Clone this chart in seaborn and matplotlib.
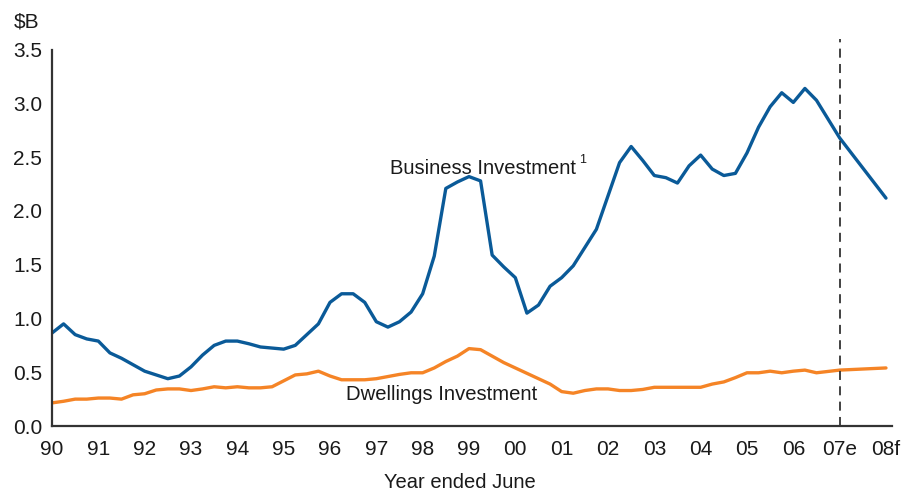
import matplotlib
matplotlib.use("Agg")
import matplotlib.pyplot as plt
import numpy as np
import pandas as pd
import seaborn as sns

# Quarterly observations (year ended June), then the 2007 estimate and 2008 forecast
quarters = list(np.arange(67) * 0.25 + 1990.0)
period = quarters + [2007.0, 2008.0]

business = [
    0.865, 0.95, 0.85, 0.81, 0.79, 0.68, 0.63, 0.57, 0.51, 0.475, 0.44, 0.465,
    0.55, 0.66, 0.75, 0.79, 0.79, 0.765, 0.735, 0.725, 0.715, 0.75, 0.85, 0.95,
    1.15, 1.23, 1.23, 1.15, 0.97, 0.92, 0.97, 1.06, 1.23, 1.58, 2.21, 2.27,
    2.32, 2.28, 1.59, 1.48, 1.38, 1.05, 1.125, 1.30, 1.38, 1.49, 1.66, 1.83,
    2.14, 2.45, 2.60, 2.47, 2.33, 2.31, 2.26, 2.42, 2.52, 2.39, 2.33, 2.35,
    2.54, 2.78, 2.97, 3.10, 3.01, 3.14, 3.03,
    2.68, 2.12,
]

dwellings = [
    0.215, 0.23, 0.25, 0.25, 0.26, 0.26, 0.25, 0.29, 0.30, 0.335, 0.345, 0.345,
    0.33, 0.345, 0.365, 0.355, 0.365, 0.355, 0.355, 0.365, 0.42, 0.475, 0.485, 0.51,
    0.465, 0.43, 0.43, 0.43, 0.44, 0.46, 0.48, 0.495, 0.495, 0.54, 0.60, 0.65,
    0.72, 0.71, 0.65, 0.59, 0.54, 0.49, 0.44, 0.39, 0.32, 0.305, 0.33, 0.345,
    0.345, 0.33, 0.33, 0.34, 0.36, 0.36, 0.36, 0.36, 0.36, 0.39, 0.41, 0.45,
    0.495, 0.495, 0.51, 0.495, 0.51, 0.52, 0.495,
    0.52, 0.54,
]

tick_years = list(range(1990, 2009))
tick_labels = ["90", "91", "92", "93", "94", "95", "96", "97", "98", "99",
               "00", "01", "02", "03", "04", "05", "06", "07e", "08f"]
y_ticks = [0.0, 0.5, 1.0, 1.5, 2.0, 2.5, 3.0, 3.5]

series_names = ["Business Investment", "Dwellings Investment"]
colors = {"Business Investment": "#0a5a98", "Dwellings Investment": "#f58426"}

df = pd.DataFrame({
    "year": period * 2,
    "value": business + dwellings,
    "series": [series_names[0]] * len(period) + [series_names[1]] * len(period),
})

sns.set_style("white")
plt.rcParams["font.family"] = ["Liberation Sans", "DejaVu Sans"]

fig = plt.figure(figsize=(9.04, 4.90), dpi=100)
ax = fig.add_axes([52 / 904, 1 - 426 / 490, (892 - 52) / 904, (426 - 39) / 490])

sns.lineplot(data=df, x="year", y="value", hue="series", palette=colors,
             linewidth=2.4, legend=False, ax=ax, sort=False)

# Boundary between actuals and estimates
ax.axvline(2007.0, color="#333333", linewidth=1.3, linestyle=(0, (5, 3.5)))

ax.set_xlim(1990.0, 2008.13)
ax.set_ylim(0, 3.6)
ax.set_xticks(tick_years)
ax.set_xticklabels(tick_labels)
ax.set_yticks(y_ticks)
ax.set_yticklabels([f"{v:.1f}" for v in y_ticks])
ax.tick_params(axis="both", length=0, labelsize=15, colors="#1a1a1a")
ax.tick_params(axis="x", pad=10)
ax.tick_params(axis="y", pad=7)
ax.set_xlabel("")
ax.set_ylabel("")

for side in ["top", "right"]:
    ax.spines[side].set_visible(False)
for side in ["left", "bottom"]:
    ax.spines[side].set_color("#333333")
    ax.spines[side].set_linewidth(1.6)
ax.spines["left"].set_bounds(0, 3.5)

fig.text(460 / 904, 1 - 482 / 490, "Year ended June", fontsize=14.5,
         color="#1a1a1a", ha="center", va="center")
fig.text(14 / 904, 1 - 22 / 490, "$B", fontsize=15, color="#1a1a1a",
         ha="left", va="center")

ax.text(1997.3, 2.40, "Business Investment", fontsize=14.5, color="#1a1a1a",
        ha="left", va="center")
ax.text(2001.38, 2.47, "1", fontsize=9, color="#1a1a1a", ha="left", va="center")
ax.text(1996.35, 0.295, "Dwellings Investment", fontsize=14.6, color="#1a1a1a",
        ha="left", va="center")

fig.savefig("out.png", dpi=100)
